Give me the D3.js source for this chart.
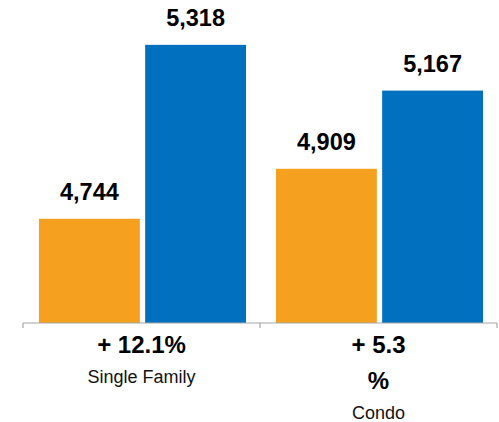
<!DOCTYPE html>
<html>
<head>
<meta charset="utf-8">
<script src="https://cdn.jsdelivr.net/npm/d3@7"></script>
<style>
  body { margin: 0; background: #fff; }
  text { font-family: "Liberation Sans", Arial, Helvetica, sans-serif; }
</style>
</head>
<body>
<svg id="chart" width="499" height="422"></svg>
<script>
// chart data
const categories = ["Single Family", "Condo"];
const series = ["Prior", "Current"];
const priorValues = [4744, 4909];
const currentValues = [5318, 5167];
const changeLines = [["+ 12.1%"], ["+ 5.3", "%"]];
const colors = ["#F5A01E", "#0070BF"];

const width = 499, height = 422;
const margin = { top: 20, right: 2, bottom: 99, left: 23 };
const innerWidth = width - margin.left - margin.right;
const innerHeight = height - margin.top - margin.bottom;

const data = categories.map((c, i) => ({ category: c, values: [priorValues[i], currentValues[i]] }));

const svg = d3.select("#chart");
const g = svg.append("g").attr("transform", `translate(${margin.left},${margin.top})`);

const x0 = d3.scaleBand().domain(categories).range([0, innerWidth]).padding(0);
const x1 = d3.scaleBand().domain(series).range([16, x0.bandwidth() - 14]).paddingInner(0.05);
const y = d3.scaleLinear().domain([4400, 5400]).range([innerHeight, 0]);

// bars
const groups = g.selectAll(".grp").data(data).join("g").attr("class", "grp")
    .attr("transform", d => `translate(${x0(d.category)},0)`);

groups.selectAll("rect").data(d => d.values.map((v, i) => ({ key: series[i], v, i }))).join("rect")
    .attr("x", d => x1(d.key))
    .attr("y", d => y(d.v))
    .attr("width", x1.bandwidth())
    .attr("height", d => innerHeight - y(d.v))
    .attr("fill", d => colors[d.i]);

// value labels
groups.selectAll(".val").data(d => d.values.map((v, i) => ({ key: series[i], v }))).join("text")
    .attr("class", "val")
    .attr("x", d => x1(d.key) + x1.bandwidth() / 2)
    .attr("y", d => y(d.v) - 19)
    .attr("text-anchor", "middle")
    .style("font-size", "23.5px").style("font-weight", "bold").attr("fill", "#000")
    .text(d => d3.format(",")(d.v));

// axis
const axis = g.append("g").attr("transform", `translate(0,${innerHeight})`);
axis.append("line").attr("x1", 0).attr("x2", innerWidth).attr("stroke", "#a6a6a6").attr("stroke-width", 1.2);
const tickXs = categories.map(c => x0(c)).concat([x0.range()[1]]);
axis.selectAll(".tk").data(tickXs).join("line").attr("class", "tk")
    .attr("x1", d => d).attr("x2", d => d).attr("y1", 0).attr("y2", 5)
    .attr("stroke", "#a6a6a6").attr("stroke-width", 1.2);

// category labels
categories.forEach((c, i) => {
  const cx = x0(c) + x0.bandwidth() / 2;
  const lines = changeLines[i];
  let yy = 30;
  lines.forEach((ln, j) => {
    axis.append("text").attr("x", cx).attr("y", yy)
      .attr("text-anchor", "middle")
      .style("font-size", "24px").style("font-weight", "bold").attr("fill", "#000")
      .text(ln);
    if (j < lines.length - 1) yy += 36;
  });
  axis.append("text").attr("x", cx).attr("y", yy + 30)
    .attr("text-anchor", "middle")
    .style("font-size", "18px").attr("fill", "#111")
    .text(c);
});
</script>
</body>
</html>
